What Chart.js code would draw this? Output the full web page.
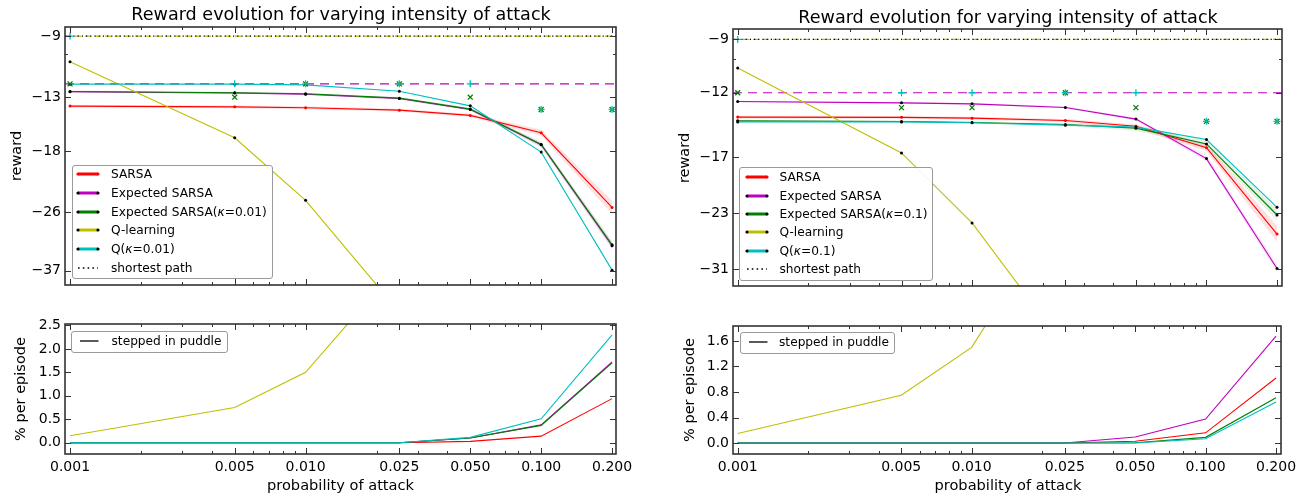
<!DOCTYPE html>
<html>
<head>
<meta charset="utf-8">
<script src="https://cdn.jsdelivr.net/npm/chart.js@4.4.1/dist/chart.umd.min.js"></script>
<style>
html,body{margin:0;padding:0;background:#fff;}
body{position:relative;width:1314px;height:496px;overflow:hidden;font-family:"DejaVu Sans",sans-serif;color:#000;}
canvas{position:absolute;}
.txt{position:absolute;white-space:nowrap;line-height:1;font-family:"DejaVu Sans",sans-serif;color:#000;}
.legbox{position:absolute;box-sizing:border-box;border:1px solid #9a9a9a;border-radius:3px;background:rgba(255,255,255,0.85);}
svg.lg{position:absolute;overflow:visible;}
</style>
</head>
<body>
<canvas id="lt"></canvas>
<canvas id="lb"></canvas>
<canvas id="rt"></canvas>
<canvas id="rb"></canvas>
<script>
// ---------------- data ----------------
const attackProbs = [0.001, 0.005, 0.010, 0.025, 0.050, 0.100, 0.200];
const xTickLabels = ['0.001', '0.005', '0.010', '0.025', '0.050', '0.100', '0.200'];
const xMinorTicks = [0.002, 0.003, 0.004, 0.006, 0.007, 0.008, 0.009, 0.02, 0.03, 0.04, 0.06, 0.07, 0.08, 0.09];

const rewardTicksL = [-9, -13, -18, -26, -37];
const rewardTicksR = [-9, -12, -17, -23, -31];
const rewardMinorTicks = [-10];
const puddleTicksL = [0.0, 0.5, 1.0, 1.5, 2.0, 2.5];
const puddleTicksR = [0.0, 0.4, 0.8, 1.2, 1.6];

const shortestPathReward = -9;
const safePathReward = -12;

// left column (kappa = 0.01)
const rewardSarsaL     = [-13.72, -13.78, -13.86, -14.06, -14.51, -16.11, -25.26];
const rewardExpSarsaL  = [-12.58, -12.68, -12.77, -13.10, -14.00, -17.32, -31.80];
const rewardExpSarsaKL = [-12.56, -12.66, -12.74, -13.08, -13.97, -17.28, -31.64];
const rewardQLearning  = [-10.5, -16.6, -24.2, -47.4, -80, -120, -170];
const rewardQKL        = [-12.02, -12.02, -12.07, -12.54, -13.70, -18.10, -36.85];
const bestQKL          = [-9, -12, -12, -12, -12, -14, -14];
const bestExpSarsaKL   = [-12, -13, -12, -12, -13, -14, -14];
const sdSarsaL         = [0.12, 0.12, 0.12, 0.12, 0.15, 0.30, 1.00];
const sdExpSarsaL      = [0.08, 0.08, 0.08, 0.10, 0.12, 0.25, 0.70];
const sdExpSarsaKL     = [0.08, 0.08, 0.08, 0.10, 0.12, 0.25, 0.70];

// right column (kappa = 0.1)
const rewardSarsaR     = [-13.68, -13.70, -13.76, -13.94, -14.37, -16.13, -25.70];
const rewardExpSarsaR  = [-12.58, -12.67, -12.74, -12.99, -13.83, -17.11, -30.93];
const rewardExpSarsaKR = [-13.96, -14.01, -14.09, -14.24, -14.52, -15.81, -23.19];
const rewardQKR        = [-14.04, -14.04, -14.11, -14.29, -14.44, -15.44, -22.25];
const bestQKR          = [-9, -12, -12, -12, -12, -14, -14];
const bestExpSarsaKR   = [-12, -13, -13, -12, -13, -14, -14];
const sdSarsaR         = [0.10, 0.10, 0.10, 0.12, 0.15, 0.30, 1.10];
const sdExpSarsaR      = [0.06, 0.06, 0.06, 0.08, 0.10, 0.25, 0.60];
const sdExpSarsaKR     = [0.08, 0.08, 0.10, 0.12, 0.20, 0.30, 0.70];

// stepped in puddle (% per episode)
const puddleSarsaL     = [0, 0, 0, 0, 0.03, 0.14, 0.94];
const puddleExpSarsaL  = [0, 0, 0, 0, 0.10, 0.38, 1.72];
const puddleExpSarsaKL = [0, 0, 0, 0, 0.10, 0.37, 1.70];
const puddleQLearning  = [0.15, 0.75, 1.50, 3.8, 6.0, 9.0, 12.0];
const puddleQKL        = [0, 0, 0, 0, 0.115, 0.51, 2.30];
const puddleSarsaR     = [0, 0, 0, 0, 0.027, 0.16, 1.02];
const puddleExpSarsaR  = [0, 0, 0, 0, 0.094, 0.376, 1.675];
const puddleExpSarsaKR = [0, 0, 0, 0, 0.005, 0.089, 0.709];
const puddleQKR        = [0, 0, 0, 0, 0.0, 0.067, 0.642];

// ---------------- styling / helpers ----------------
const C = {sarsa:'#ff0000', exp:'#bf00bf', expK:'#008000', q:'#bfbf00', qK:'#00bfbf'};
const FONT = 'DejaVu Sans';
const neg = v => -v, id = v => v;

function lineSet(ys, color, ptColor, tf, radius) {
  return {data: attackProbs.map((x, i) => ({x, y: tf(ys[i])})), borderColor: color, backgroundColor: ptColor,
    borderWidth: 1.1, pointRadius: radius, pointBackgroundColor: ptColor, pointBorderColor: ptColor,
    pointBorderWidth: 0, pointHoverRadius: 0, fill: false, tension: 0};
}
function bandSets(ys, sd, color) {
  const up = {data: attackProbs.map((x, i) => ({x, y: -(ys[i] + sd[i])})), borderWidth: 0, pointRadius: 0, fill: false, borderColor: 'rgba(0,0,0,0)'};
  const lo = {data: attackProbs.map((x, i) => ({x, y: -(ys[i] - sd[i])})), borderWidth: 0, pointRadius: 0, fill: '-1', backgroundColor: color, borderColor: 'rgba(0,0,0,0)'};
  return [up, lo];
}
function hline(yVal, xr, color, dash, width) {
  return {data: [{x: xr[0], y: yVal}, {x: xr[1], y: yVal}], borderColor: color, borderDash: dash, borderWidth: width, pointRadius: 0, fill: false};
}
function markerSet(ys, color, style) {
  return {data: attackProbs.map((x, i) => ({x, y: -ys[i]})), showLine: false, pointStyle: style, pointRadius: 3.5,
    pointBorderColor: color, pointBackgroundColor: color, pointBorderWidth: 1.3, borderColor: color, pointHoverRadius: 0};
}

const frameTicks = {
  id: 'frameTicks',
  afterDraw(chart, args, o) {
    const {ctx, chartArea: a} = chart;
    const xs = chart.scales.x, ys = chart.scales.y;
    ctx.save();
    ctx.strokeStyle = '#333';
    ctx.lineWidth = 1;
    const seg = (x1, y1, x2, y2) => { ctx.beginPath(); ctx.moveTo(x1, y1); ctx.lineTo(x2, y2); ctx.stroke(); };
    const L = 6, l = 3;
    const px = v => Math.round(xs.getPixelForValue(v)) + 0.5;
    const py = v => Math.round(ys.getPixelForValue(v)) + 0.5;
    o.xMajor.forEach(v => { const p = px(v); seg(p, a.bottom, p, a.bottom - L); seg(p, a.top, p, a.top + L); });
    o.xMinor.forEach(v => { const p = px(v); seg(p, a.bottom, p, a.bottom - l); seg(p, a.top, p, a.top + l); });
    ys.ticks.forEach(t => { const p = py(t.value); seg(a.left, p, a.left + L, p); seg(a.right, p, a.right - L, p); });
    (o.yMinor || []).forEach(v => { const p = py(v); seg(a.left, p, a.left + l, p); seg(a.right, p, a.right - l, p); });
    ctx.lineWidth = 1.6;
    ctx.strokeRect(Math.round(a.left), Math.round(a.top), Math.round(a.right - a.left), Math.round(a.bottom - a.top));
    ctx.restore();
  }
};

function makeChart(cid, g, datasets, xr, yScale, showXLabels, yMinor) {
  const cv = document.getElementById(cid);
  cv.width = g.w; cv.height = g.h;
  cv.style.left = g.x + 'px'; cv.style.top = g.y + 'px';
  const pl = g.pl - g.x, pt = g.pt - g.y, pr = g.x + g.w - g.pr, pb = g.y + g.h - g.pb;
  return new Chart(cv, {
    type: 'line',
    data: {datasets},
    options: {
      responsive: false, animation: false, devicePixelRatio: 1, events: [],
      layout: {padding: {left: 0, top: pt, right: pr, bottom: 0}},
      plugins: {legend: {display: false}, tooltip: {enabled: false}, title: {display: false},
        frameTicks: {xMajor: attackProbs, xMinor: xMinorTicks, yMinor: yMinor}},
      scales: {
        x: {type: 'logarithmic', min: xr[0], max: xr[1], bounds: 'data',
          grid: {display: false, drawTicks: false}, border: {display: false},
          afterBuildTicks: s => { s.ticks = attackProbs.map(v => ({value: v})); },
          afterFit: s => { s.height = pb; },
          ticks: {display: showXLabels, autoSkip: false, maxRotation: 0, minRotation: 0, padding: 5,
            color: '#000', font: {family: FONT, size: 14}, callback: (v, i) => xTickLabels[i]}},
        y: Object.assign({grid: {display: false, drawTicks: false}, border: {display: false},
          afterFit: s => { s.width = pl; }}, yScale)
      }
    },
    plugins: [frameTicks]
  });
}

function rewardDatasets(xr, d) {
  return [
    markerSet(d.bestQK, C.qK, 'cross'),
    markerSet(d.bestExpK, C.expK, 'crossRot'),
    lineSet(d.qK, C.qK, '#000', neg, 1.5),
    lineSet(rewardQLearning, C.q, '#000', neg, 1.5),
    lineSet(d.expK, C.expK, '#000', neg, 1.5),
    lineSet(d.exp, C.exp, '#000', neg, 1.5),
    lineSet(d.sarsa, C.sarsa, C.sarsa, neg, 1.5),
    hline(-shortestPathReward, xr, '#000', [1.2, 3], 1.2),
    hline(-shortestPathReward, xr, C.q, [6, 4], 1.2),
    hline(-safePathReward, xr, C.exp, [9, 6], 1.1),
    ...bandSets(d.sarsa, d.sdSarsa, 'rgba(255,0,0,0.12)'),
    ...bandSets(d.exp, d.sdExp, 'rgba(191,0,191,0.10)'),
    ...bandSets(d.expK, d.sdExpK, 'rgba(0,128,0,0.10)')
  ];
}
function puddleDatasets(d) {
  return [
    lineSet(d.qK, C.qK, C.qK, id, 0),
    lineSet(puddleQLearning, C.q, C.q, id, 0),
    lineSet(d.expK, C.expK, C.expK, id, 0),
    lineSet(d.exp, C.exp, C.exp, id, 0),
    lineSet(d.sarsa, C.sarsa, C.sarsa, id, 0)
  ];
}
function rewardY(ticks, min, max) {
  return {type: 'logarithmic', min, max, reverse: true, bounds: 'data',
    afterBuildTicks: s => { s.ticks = ticks.map(v => ({value: -v})); },
    ticks: {padding: 4, color: '#000', font: {family: FONT, size: 14},
      callback: (v, i) => String(ticks[i]).replace('-', '\u2212')}};
}
function puddleY(ticks, min, max) {
  return {type: 'linear', min, max, bounds: 'data',
    afterBuildTicks: s => { s.ticks = ticks.map(v => ({value: v})); },
    ticks: {padding: 4, color: '#000', font: {family: FONT, size: 14}, callback: (v, i) => ticks[i].toFixed(1)}};
}

// ---------------- charts ----------------
const xrL = [0.000952, 0.2078], xrR = [0.000955, 0.2100];
makeChart('lt', {x: 0, y: 0, w: 650, h: 300, pl: 65, pt: 27, pr: 616, pb: 285},
  rewardDatasets(xrL, {sarsa: rewardSarsaL, exp: rewardExpSarsaL, expK: rewardExpSarsaKL, qK: rewardQKL,
    bestQK: bestQKL, bestExpK: bestExpSarsaKL, sdSarsa: sdSarsaL, sdExp: sdExpSarsaL, sdExpK: sdExpSarsaKL}),
  xrL, rewardY(rewardTicksL, 8.52, 40.3), false, rewardMinorTicks.map(neg));
makeChart('rt', {x: 660, y: 0, w: 654, h: 300, pl: 733, pt: 29, pr: 1282, pb: 286},
  rewardDatasets(xrR, {sarsa: rewardSarsaR, exp: rewardExpSarsaR, expK: rewardExpSarsaKR, qK: rewardQKR,
    bestQK: bestQKR, bestExpK: bestExpSarsaKR, sdSarsa: sdSarsaR, sdExp: sdExpSarsaR, sdExpK: sdExpSarsaKR}),
  xrR, rewardY(rewardTicksR, 8.51, 34.0), false, rewardMinorTicks.map(neg));
makeChart('lb', {x: 0, y: 300, w: 650, h: 196, pl: 65, pt: 324, pr: 616, pb: 454},
  puddleDatasets({sarsa: puddleSarsaL, exp: puddleExpSarsaL, expK: puddleExpSarsaKL, qK: puddleQKL}),
  xrL, puddleY(puddleTicksL, -0.24, 2.53), true, []);
makeChart('rb', {x: 660, y: 300, w: 654, h: 196, pl: 733, pt: 326, pr: 1281, pb: 454},
  puddleDatasets({sarsa: puddleSarsaR, exp: puddleExpSarsaR, expK: puddleExpSarsaKR, qK: puddleQKR}),
  xrR, puddleY(puddleTicksR, -0.172, 1.835), true, []);

// ---------------- text ----------------
function txt(html, x, baseline, fs, center) {
  const d = document.createElement('div');
  d.className = 'txt'; d.innerHTML = html;
  d.style.fontSize = fs + 'px';
  d.style.left = x + 'px';
  d.style.top = (baseline - 0.846 * fs) + 'px';
  if (center) d.style.transform = 'translateX(-50%)';
  document.body.appendChild(d);
}
function vtxt(html, cx, cy, fs) {
  const d = document.createElement('div');
  d.className = 'txt'; d.innerHTML = html;
  d.style.fontSize = fs + 'px';
  d.style.left = cx + 'px'; d.style.top = cy + 'px';
  d.style.transform = 'translate(-50%,-50%) rotate(-90deg)';
  document.body.appendChild(d);
}
const titleText = 'Reward evolution for varying intensity of attack';
txt(titleText, 341, 21, 17.6, true);
txt(titleText, 1008, 23.5, 17.6, true);
vtxt('reward', 16, 156, 14.5);
vtxt('reward', 684, 157.5, 14.5);
vtxt('% per episode', 20, 389, 14.5);
vtxt('% per episode', 689, 390, 14.5);
txt('probability of attack', 340.5, 490, 14.6, true);
txt('probability of attack', 1008, 490, 14.6, true);

// ---------------- legends ----------------
function legend(b, rows) {
  const box = document.createElement('div');
  box.className = 'legbox';
  Object.assign(box.style, {left: b.x + 'px', top: b.y + 'px', width: b.w + 'px', height: b.h + 'px'});
  document.body.appendChild(box);
  rows.forEach((r, i) => {
    const cy = b.y0 + i * b.dy;
    const w = b.lx2 - b.lx1;
    const ns = 'http://www.w3.org/2000/svg';
    const svg = document.createElementNS(ns, 'svg');
    svg.setAttribute('class', 'lg');
    svg.setAttribute('width', w); svg.setAttribute('height', 8);
    svg.style.left = b.lx1 + 'px'; svg.style.top = (cy - 4) + 'px';
    const ln = document.createElementNS(ns, 'line');
    ln.setAttribute('x1', 0); ln.setAttribute('x2', w); ln.setAttribute('y1', 4); ln.setAttribute('y2', 4);
    ln.setAttribute('stroke', r.color); ln.setAttribute('stroke-width', r.lw);
    if (r.dash) ln.setAttribute('stroke-dasharray', r.dash);
    svg.appendChild(ln);
    if (r.dot) {
      [0, w].forEach(cx => {
        const c = document.createElementNS(ns, 'circle');
        c.setAttribute('cx', cx); c.setAttribute('cy', 4); c.setAttribute('r', 1.6); c.setAttribute('fill', r.dot);
        svg.appendChild(c);
      });
    }
    document.body.appendChild(svg);
    txt(r.label, b.tx, cy + 4.4, 12.2, false);
  });
}
function rewardLegendRows(kappa) {
  return [
    {label: 'SARSA', color: C.sarsa, lw: 3, dot: C.sarsa},
    {label: 'Expected SARSA', color: C.exp, lw: 3, dot: '#000'},
    {label: 'Expected SARSA(<i>κ</i>=' + kappa + ')', color: C.expK, lw: 3, dot: '#000'},
    {label: 'Q-learning', color: C.q, lw: 3, dot: '#000'},
    {label: 'Q(<i>κ</i>=' + kappa + ')', color: C.qK, lw: 3, dot: '#000'},
    {label: 'shortest path', color: '#000', lw: 1.6, dash: '1.6 3.2'}
  ];
}
legend({x: 72, y: 165, w: 201, h: 113.5, lx1: 78, lx2: 98, tx: 111, y0: 174.3, dy: 18.7}, rewardLegendRows('0.01'));
legend({x: 739, y: 166.5, w: 194, h: 114.5, lx1: 747, lx2: 767, tx: 779.5, y0: 177.3, dy: 18.3}, rewardLegendRows('0.1'));
legend({x: 71, y: 330.5, w: 157, h: 22, lx1: 80, lx2: 98.5, tx: 111.5, y0: 340.7, dy: 0},
  [{label: 'stepped in puddle', color: '#000', lw: 1.3}]);
legend({x: 740, y: 331.5, w: 154.5, h: 22, lx1: 748.5, lx2: 767, tx: 779, y0: 341.7, dy: 0},
  [{label: 'stepped in puddle', color: '#000', lw: 1.3}]);
</script>
</body>
</html>
